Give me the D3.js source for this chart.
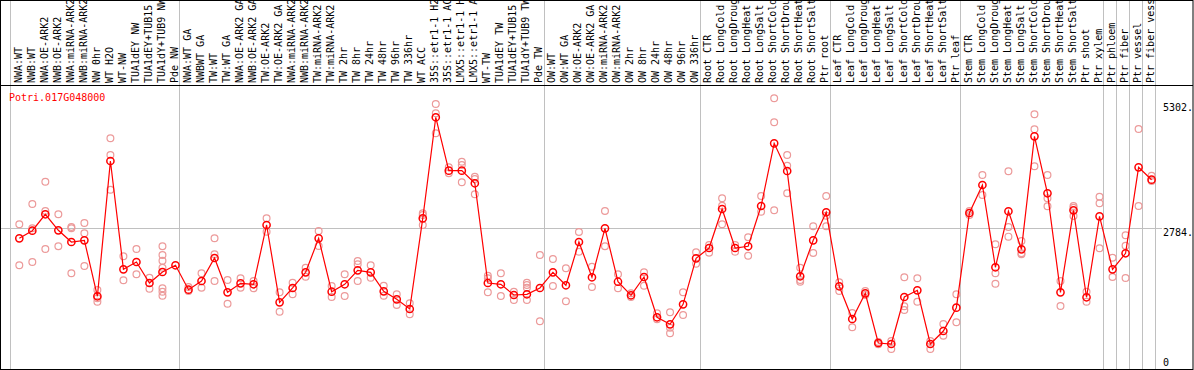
<!DOCTYPE html>
<html lang="en">
<head>
<meta charset="UTF-8">
<script src="https://d3js.org/d3.v7.min.js"></script>
<title>Potri.017G048000</title>
<style>
  body { margin: 0; background: #fff; }
  text { font-family: "DejaVu Sans Mono", "Liberation Mono", monospace; font-size: 10px; }
</style>
</head>
<body>
<script type="text/javascript">

var geneName = "Potri.017G048000";

var samples = [
  "NWA:WT", "NWB:WT", "NWA:OE-ARK2", "NWB:OE-ARK2", "NWA:miRNA-ARK2", "NWB:miRNA-ARK2",
  "NW 0hr", "WT H2O", "WT-NW", "TUA1dEY NW", "TUA1dEY+TUB15", "TUA1dY+TUB9 NW", "Pde NW",
  "NWA:WT GA", "NWBWT GA", "TW:WT", "TW:WT GA", "NWA:OE-ARK2 GA", "NWB:OE-ARK2 GA",
  "TW:OE-ARK2", "TW:OE-ARK2 GA", "NWA:miRNA-ARK2", "NWB:miRNA-ARK2", "TW:miRNA-ARK2",
  "TW:miRNA-ARK2", "TW 2hr", "TW 8hr", "TW 24hr", "TW 48hr", "TW 96hr", "TW 336hr",
  "WT ACC", "35S::etr1-1 H2", "35S::etr1-1 AC", "LMX5::etr1-1 H", "LMX5::etr1-1 A",
  "WT-TW", "TUA1dEY TW", "TUA1dEY+TUB15", "TUA1dY+TUB9 TW", "Pde TW",
  "OW:WT", "OW:WT GA", "OW:OE-ARK2", "OW:OE-ARK2 GA", "OW:miRNA-ARK2", "OW:miRNA-ARK2",
  "OW 2hr", "OW 8hr", "OW 24hr", "OW 48hr", "OW 96hr", "OW 336hr",
  "Root CTR", "Root LongCold", "Root LongDroug", "Root LongHeat", "Root LongSalt",
  "Root ShortCold", "Root ShortDrou", "Root ShortHeat", "Root ShortSalt", "Ptr root",
  "Leaf CTR", "Leaf LongCold", "Leaf LongDroug", "Leaf LongHeat", "Leaf LongSalt",
  "Leaf ShortCold", "Leaf ShortDrou", "Leaf ShortHeat", "Leaf ShortSalt", "Ptr leaf",
  "Stem CTR", "Stem LongCold", "Stem LongDroug", "Stem LongHeat", "Stem LongSalt",
  "Stem ShortCold", "Stem ShortDrou", "Stem ShortHeat", "Stem ShortSalt", "Ptr shoot",
  "Ptr xylem", "Ptr phloem", "Ptr fiber", "Ptr vessel", "Ptr fiber vess"
];

// group boundaries: index of the last sample in each block
var groupEnds = [13, 41, 53, 63, 73, 84, 85, 86, 87, 88];

var means = [
  2586, 2739, 3069, 2747, 2512, 2546, 1421, 4140, 1963, 2110, 1688, 1909, 2044,
  1553, 1728, 2190, 1501, 1682, 1662, 2854, 1300, 1588, 1903, 2586, 1513, 1662,
  1943, 1903, 1521, 1360, 1166, 2988, 5018, 3945, 3945, 3692, 1688, 1662, 1447,
  1461, 1588,
  1903, 1642, 2512, 1803, 2787, 1714, 1441, 1809, 999, 858, 1260, 2184,
  2391, 3175, 2391, 2426, 3235, 4495, 3939, 1823, 2546, 3109,
  1622, 965, 1481, 482, 462, 1407, 1541, 462, 723, 1192,
  3095, 3657, 2004, 3129, 2365, 4636, 3491, 1501, 3149, 1401, 3028,
  1963, 2285, 4013, 3764
];

var replicates = [
  [2868, 2044], [3276, 2787, 2110], [3724, 3135, 2371], [3069, 2426], [2813, 2787, 1883],
  [2894, 2687, 2030], [1547, 1381, 1312], [4596, 4260, 3563], [2225, 1742], [2371, 1863],
  [1795, 1574], [2426, 2251, 2136, 1996, 1582, 1513, 1433], [],
  [1608, 1527], [1883, 1594], [2586, 2265, 1728], [1748, 1272], [1783, 1594], [1728, 1582],
  [2988, 2719], [1501, 1111], [1694, 1461], [1996, 1815], [2733, 2432], [1628, 1407],
  [1863, 1427], [2130, 2064, 1728], [2044, 1795], [1634, 1433], [1461, 1246], [1280, 1059],
  [3089, 3055, 2854], [5285, 5098, 4696], [4013, 3893], [4126, 4059, 3712], [3824, 3778, 3471],
  [1835, 1783, 1501], [1883, 1427], [1513, 1346], [1694, 1648, 1594, 1346], [2251, 918],
  [2170, 1628], [1983, 1320], [2713, 2317], [2016, 1608], [3135, 2426], [1863, 1582],
  [1481, 1407], [1903, 1634], [1079, 959], [1099, 790, 677], [1501, 1045], [2305, 2076],
  [2452, 2297], [3390, 3241, 2868], [2452, 2317], [2606, 2237], [3436, 3121],
  [5400, 4917, 3149], [4260, 4045, 3491], [1996, 1748, 1714], [2828, 2291], [3436, 3041, 2828],
  [1702, 1527], [1085, 798], [1527, 1447], [502, 456], [522, 362], [1803, 1220, 1145],
  [1783, 1312], [522, 362], [864, 629], [1461, 898],
  [3135, 3055], [3858, 3457], [2466, 1883, 1674], [3933, 2813, 2619], [2532, 2285, 2265],
  [5078, 4777, 4033], [3858, 3390, 3229], [1728, 1226], [3235, 3201, 3034], [1513, 1312],
  [3422, 3290, 2385], [2196, 1809], [2647, 2438, 1789], [4783, 3235], [3844, 3738]
];

var yTicks = [5302, 2784, 0];

var width = 1194, height = 370;
var headerH = 85;

var svg = d3.select("body").append("svg")
  .attr("width", width).attr("height", height);

var x = d3.scaleBand().domain(d3.range(samples.length)).range([10, 1155.3]);
var bw = x.bandwidth();
var y = d3.scaleLinear().domain([0, 5667]).range([367, headerH]);

function cx(i) { return x(i) + bw / 2 + 2.8; }

// background grid
svg.append("line")
  .attr("x1", 0).attr("x2", 1162)
  .attr("y1", Math.round(y(2784)) + 0.5).attr("y2", Math.round(y(2784)) + 0.5)
  .attr("stroke", "#c0c0c0");

var seps = [0].concat(groupEnds);
svg.selectAll(".sep").data(seps).enter().append("line")
  .attr("class", "sep")
  .attr("x1", function(d) { return Math.round(d === 0 ? x(0) : x(d - 1) + bw) + 0.5; })
  .attr("x2", function(d) { return Math.round(d === 0 ? x(0) : x(d - 1) + bw) + 0.5; })
  .attr("y1", 0).attr("y2", height)
  .attr("stroke", "#c0c0c0");

// frame and header divider
svg.append("rect")
  .attr("x", 0.5).attr("y", 0.5).attr("width", width - 1.5).attr("height", height - 1)
  .attr("fill", "none").attr("stroke", "#000");
svg.append("line")
  .attr("x1", 0).attr("x2", width - 1)
  .attr("y1", headerH + 0.5).attr("y2", headerH + 0.5)
  .attr("stroke", "#000");

// sample labels
svg.selectAll(".lab").data(samples).enter().append("text")
  .attr("class", "lab")
  .attr("transform", function(d, i) { return "translate(" + (x(i) + 11.5) + "," + (headerH - 2) + ") rotate(-90)"; })
  .attr("fill", "#000")
  .text(function(d) { return d; });

// title
svg.append("text")
  .attr("x", 9).attr("y", 101)
  .attr("fill", "#ff0000")
  .text(geneName);

// value labels
svg.selectAll(".yl").data(yTicks).enter().append("text")
  .attr("class", "yl")
  .attr("x", 1163)
  .attr("y", function(d) { return Math.min(y(d) + 8, 366); })
  .attr("fill", "#000")
  .text(function(d) { return d === 0 ? "0" : d + "."; });

// replicate points
var reps = [];
replicates.forEach(function(arr, i) {
  arr.forEach(function(v) { reps.push({ i: i, v: v }); });
});

svg.selectAll(".rep").data(reps).enter().append("circle")
  .attr("class", "rep")
  .attr("cx", function(d) { return cx(d.i); })
  .attr("cy", function(d) { return y(d.v); })
  .attr("r", 3.4)
  .attr("fill", "none")
  .attr("stroke", "#ec9a9a")
  .attr("stroke-width", 1.2);

// mean line
var line = d3.line()
  .x(function(d, i) { return cx(i); })
  .y(function(d) { return y(d); });

svg.append("path")
  .datum(means)
  .attr("d", line)
  .attr("fill", "none")
  .attr("stroke", "#ff0000")
  .attr("stroke-width", 1.2);

svg.selectAll(".mean").data(means).enter().append("circle")
  .attr("class", "mean")
  .attr("cx", function(d, i) { return cx(i); })
  .attr("cy", function(d) { return y(d); })
  .attr("r", 3.6)
  .attr("fill", "none")
  .attr("stroke", "#ff0000")
  .attr("stroke-width", 1.5);

</script>
</body>
</html>
